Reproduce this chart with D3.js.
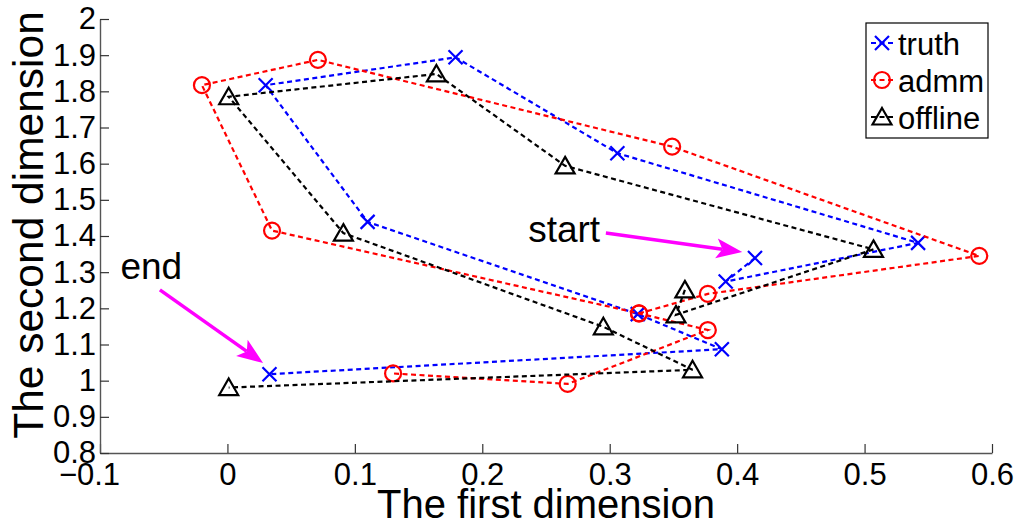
<!DOCTYPE html>
<html>
<head>
<meta charset="utf-8">
<script src="https://cdn.jsdelivr.net/npm/d3@7"></script>
<style>
  body { margin: 0; background: #fff; }
  svg { font-family: "Liberation Sans", Arial, Helvetica, sans-serif; }
</style>
</head>
<body>
<div id="chart"></div>
<script>
// values
var truthX   = [0.414, 0.391, 0.542, 0.306, 0.179, 0.030, 0.110, 0.322, 0.388, 0.033];
var truthY   = [1.339, 1.274, 1.381, 1.629, 1.894, 1.817, 1.439, 1.184, 1.087, 1.018];
var admmX    = [0.323, 0.377, 0.590, 0.349, 0.071, -0.020, 0.035, 0.323, 0.377, 0.267, 0.130];
var admmY    = [1.186, 1.240, 1.345, 1.647, 1.887, 1.817, 1.415, 1.186, 1.140, 0.991, 1.020];
var offlineX = [0.359, 0.352, 0.507, 0.265, 0.164, 0.001, 0.091, 0.295, 0.365, 0.001];
var offlineY = [1.251, 1.182, 1.363, 1.594, 1.848, 1.785, 1.408, 1.149, 1.030, 0.981];

var xTicks = [-0.1, 0, 0.1, 0.2, 0.3, 0.4, 0.5, 0.6];
var xTickLabels = ["\u22120.1", "0", "0.1", "0.2", "0.3", "0.4", "0.5", "0.6"];
var yTicks = [0.8, 0.9, 1, 1.1, 1.2, 1.3, 1.4, 1.5, 1.6, 1.7, 1.8, 1.9, 2];
var yTickLabels = ["0.8", "0.9", "1", "1.1", "1.2", "1.3", "1.4", "1.5", "1.6", "1.7", "1.8", "1.9", "2"];

var seriesNames = ["truth", "admm", "offline"];

// annotation text + arrows, in data units
var notes = [
  {text: "start", tx: 0.236, ty: 1.383, x1: 0.297, y1: 1.408, x2: 0.404, y2: 1.356},
  {text: "end",   tx: -0.084, ty: 1.281, x1: -0.053, y1: 1.251, x2: 0.028, y2: 1.049}
];

var width = 1017, height = 523;
var x = d3.scaleLinear().domain([-0.1, 0.6]).range([100, 992]);
var y = d3.scaleLinear().domain([0.8, 2]).range([453, 19]);

var svg = d3.select("#chart").append("svg")
    .attr("width", width).attr("height", height);

// axes
var xAxis = d3.axisBottom(x).tickValues(xTicks)
    .tickFormat(function(d, i){ return xTickLabels[i]; })
    .tickSizeInner(-9).tickSizeOuter(0).tickPadding(10);
var yAxis = d3.axisLeft(y).tickValues(yTicks)
    .tickFormat(function(d, i){ return yTickLabels[i]; })
    .tickSizeInner(-9).tickSizeOuter(0).tickPadding(4);

var gx = svg.append("g").attr("transform", "translate(0,453)").call(xAxis);
var gy = svg.append("g").attr("transform", "translate(100,0)").call(yAxis);
[gx, gy].forEach(function(g){
    g.select(".domain").attr("stroke", "#555").attr("stroke-width", 1.4);
    g.selectAll(".tick line").attr("stroke", "#333").attr("stroke-width", 1.2);
    g.selectAll(".tick text").attr("fill", "#000").style("font-size", "31px")
        .style("font-family", "Liberation Sans, Arial, sans-serif");
});
gx.selectAll(".tick text").attr("dy", "0.71em")
    .attr("dx", function(d){ return d < 0 ? -11 : 0; });

svg.append("text").attr("x", 546).attr("y", 518)
    .attr("text-anchor", "middle").style("font-size", "40px")
    .text("The first dimension");
svg.append("text")
    .attr("transform", "translate(43,225) rotate(-90)")
    .attr("text-anchor", "middle").style("font-size", "42.5px")
    .text("The second dimension");

// markers
function drawMarker(g, kind, color, cx, cy){
    if (kind === "x"){
        var s = 7;
        g.append("path")
            .attr("d", "M" + (cx - s) + "," + (cy - s) + "L" + (cx + s) + "," + (cy + s) +
                       "M" + (cx - s) + "," + (cy + s) + "L" + (cx + s) + "," + (cy - s))
            .attr("stroke", color).attr("stroke-width", 2.2).attr("fill", "none");
    } else if (kind === "o"){
        g.append("circle").attr("cx", cx).attr("cy", cy).attr("r", 8)
            .attr("stroke", color).attr("stroke-width", 2.2).attr("fill", "none");
    } else {
        g.append("path")
            .attr("d", "M" + cx + "," + (cy - 9) + "L" + (cx + 9.5) + "," + (cy + 7.5) +
                       "L" + (cx - 9.5) + "," + (cy + 7.5) + "Z")
            .attr("stroke", color).attr("stroke-width", 2.2).attr("fill", "none")
            .attr("stroke-linejoin", "miter");
    }
}

var series = [
    {name: "truth",   xs: truthX,   ys: truthY,   color: "#0000ff", marker: "x"},
    {name: "admm",    xs: admmX,    ys: admmY,    color: "#ff0000", marker: "o"},
    {name: "offline", xs: offlineX, ys: offlineY, color: "#000000", marker: "^"}
];

var line = d3.line().x(function(d){ return x(d[0]); }).y(function(d){ return y(d[1]); });

series.forEach(function(s){
    var pts = s.xs.map(function(v, i){ return [v, s.ys[i]]; });
    var g = svg.append("g");
    g.append("path").datum(pts).attr("d", line)
        .attr("fill", "none").attr("stroke", s.color)
        .attr("stroke-width", 2.2).attr("stroke-dasharray", "5,3.5");
    pts.forEach(function(p){ drawMarker(g, s.marker, s.color, x(p[0]), y(p[1])); });
});

// annotations
notes.forEach(function(n){
    var px1 = x(n.x1), py1 = y(n.y1), px2 = x(n.x2), py2 = y(n.y2);
    var ang = Math.atan2(py2 - py1, px2 - px1);
    var L = 26, W = 10, back = 20;
    var bx = px2 - L * Math.cos(ang), by = py2 - L * Math.sin(ang);
    var nx = px2 - back * Math.cos(ang), ny = py2 - back * Math.sin(ang);
    var ox = -Math.sin(ang) * W, oy = Math.cos(ang) * W;
    svg.append("line").attr("x1", px1).attr("y1", py1).attr("x2", nx).attr("y2", ny)
        .attr("stroke", "#ff00ff").attr("stroke-width", 3.5);
    svg.append("path")
        .attr("d", "M" + px2 + "," + py2 + "L" + (bx + ox) + "," + (by + oy) +
                   "L" + nx + "," + ny + "L" + (bx - ox) + "," + (by - oy) + "Z")
        .attr("fill", "#ff00ff");
    svg.append("text").attr("x", x(n.tx)).attr("y", y(n.ty))
        .style("font-size", "37px").text(n.text);
});

// legend
var leg = svg.append("g");
leg.append("rect").attr("x", 866).attr("y", 23).attr("width", 122).attr("height", 115)
    .attr("fill", "#fff").attr("stroke", "#000").attr("stroke-width", 1.2);
series.forEach(function(s, i){
    var cy = 43 + i * 37;
    leg.append("line").attr("x1", 870).attr("x2", 895).attr("y1", cy).attr("y2", cy)
        .attr("stroke", s.color).attr("stroke-width", 2.2).attr("stroke-dasharray", "5,3.5")
        .attr("stroke-dashoffset", -1);
    drawMarker(leg, s.marker, s.color, 882, cy);
    leg.append("text").attr("x", 898).attr("y", cy + 12)
        .style("font-size", "31px").text(seriesNames[i]);
});
</script>
</body>
</html>
